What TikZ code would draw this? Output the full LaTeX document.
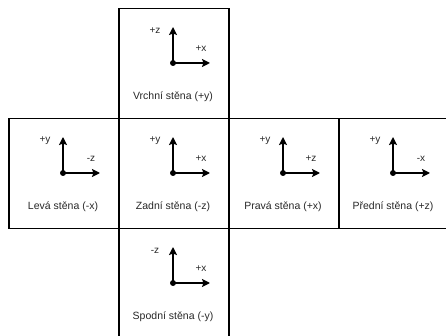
\documentclass[tikz,border=0pt]{standalone}
\usepackage{fontspec}
\setmainfont{Liberation Sans}
\usetikzlibrary{arrows.meta}
\definecolor{txt}{RGB}{40,40,40}
\tikzset{
  face/.style={draw=black, line width=1.5pt, minimum size=110pt, inner sep=0pt, anchor=north west},
  axis/.style={line width=1.6pt, -{Stealth[length=8pt,width=8pt,inset=1.5pt]}},
  axlabel/.style={font=\fontsize{10}{12}\selectfont, text=txt, inner sep=0pt},
  caption/.style={font=\fontsize{10.5}{12}\selectfont, text=txt, inner sep=0pt}
}
% one face of the unfolded cube: #1 name, #2 corner, #3 up label, #4 right label, #5 caption
\newcommand{\cubeface}[5]{%
  \node[face] (#1) at (#2) {};
  \coordinate (#1o) at ([xshift=55pt,yshift=-55pt]#1.north west);
  \coordinate (#1u) at ([yshift=36pt]#1o);
  \coordinate (#1r) at ([xshift=37pt]#1o);
  \draw[axis] (#1o) -- (#1u);
  \draw[axis] (#1o) -- (#1r);
  \fill (#1o) circle (3pt);
  \node[axlabel] (#1ul) at ([xshift=-18pt,yshift=32pt]#1o) {#3};
  \node[axlabel] (#1rl) at ([xshift=28pt,yshift=14pt]#1o) {#4};
  \node[caption] (#1c) at ([yshift=-34pt]#1o) {#5};
}
\begin{document}
\begin{tikzpicture}[x=1pt,y=-1pt]
  \useasboundingbox (0,0) rectangle (446,336);
  \clip (0,0) rectangle (446,336);
  \fill[white] (0,0) rectangle (446,336);
  \cubeface{top}{118,8}{+z}{+x}{Vrchní stěna (+y)}
  \cubeface{left}{8,118}{+y}{-z}{Levá stěna (-x)}
  \cubeface{back}{118,118}{+y}{+x}{Zadní stěna (-z)}
  \cubeface{right}{228,118}{+y}{+z}{Pravá stěna (+x)}
  \cubeface{front}{338,118}{+y}{-x}{Přední stěna (+z)}
  \cubeface{bottom}{118,228}{-z}{+x}{Spodní stěna (-y)}
\end{tikzpicture}
\end{document}
